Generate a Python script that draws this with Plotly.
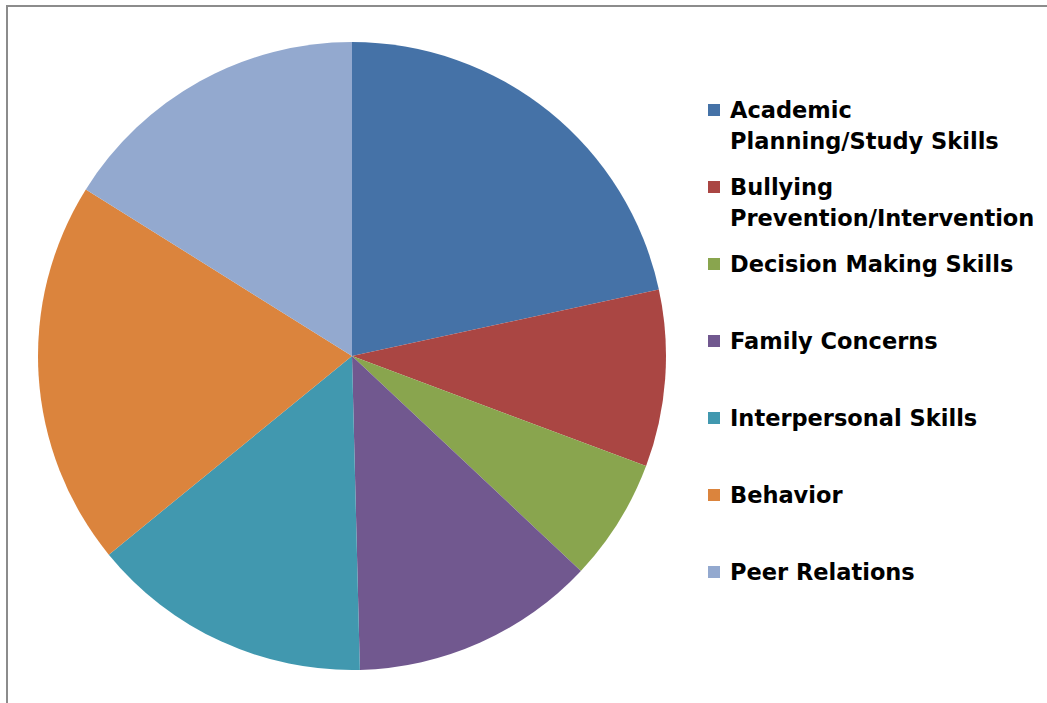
import plotly.graph_objects as go

categories = [
    "Academic<br>Planning/Study Skills",
    "Bullying<br>Prevention/Intervention",
    "Decision Making Skills",
    "Family Concerns",
    "Interpersonal Skills",
    "Behavior",
    "Peer Relations",
]
values = [21.6, 9.1, 6.3, 12.6, 14.5, 19.8, 16.1]
colors = ["#4572A7", "#AA4643", "#89A54E", "#71588F", "#4198AF", "#DB843D", "#93A9CF"]

W, H = 1047, 703

fig = go.Figure()
fig.add_trace(go.Pie(
    labels=[c.replace("<br>", " ") for c in categories],
    values=values,
    sort=False,
    direction="clockwise",
    rotation=0,
    marker=dict(colors=colors, line=dict(width=0)),
    textinfo="none",
    hoverinfo="none",
    showlegend=False,
    domain=dict(x=[38 / W, 666 / W], y=[1 - 670 / H, 1 - 42 / H]),
))

# Manual legend (uniform spacing like the original)
legend_font = dict(family="DejaVu Sans", size=22.5, color="#000000")
first_y = 110
step = 77
line_gap = 31
shapes = []
annotations = []
for i, (cat, col) in enumerate(zip(categories, colors)):
    yc = first_y + i * step
    shapes.append(dict(
        type="rect", xref="paper", yref="paper",
        x0=708 / W, x1=720 / W, y0=1 - (yc + 6) / H, y1=1 - (yc - 6) / H,
        fillcolor=col, line=dict(width=0),
    ))
    for j, line in enumerate(cat.split("<br>")):
        annotations.append(dict(
            xref="paper", yref="paper", x=728 / W, y=1 - (yc + j * line_gap) / H,
            xanchor="left", yanchor="middle", showarrow=False,
            text="<b>" + line + "</b>", font=legend_font,
        ))

# Chart frame
shapes.append(dict(
    type="rect", xref="paper", yref="paper",
    x0=7 / W, x1=1.02, y0=-0.02, y1=1 - 6 / H,
    line=dict(color="#8c8c8c", width=2), fillcolor="rgba(0,0,0,0)",
))

fig.update_layout(
    width=W, height=H,
    margin=dict(l=0, r=0, t=0, b=0),
    paper_bgcolor="white",
    plot_bgcolor="white",
    shapes=shapes,
    annotations=annotations,
)

fig.write_html(
    "out.html",
    config={"displayModeBar": False, "staticPlot": True},
    post_script="document.body.style.margin='0';document.body.style.overflow='hidden';",
)
